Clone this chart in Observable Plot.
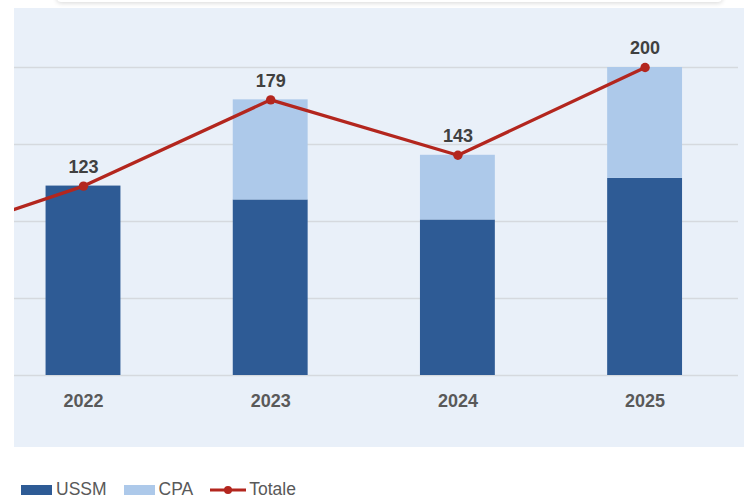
<!DOCTYPE html>
<html>
<head>
<meta charset="utf-8">
<script src="https://cdn.jsdelivr.net/npm/d3@7"></script>
<script src="https://cdn.jsdelivr.net/npm/@observablehq/plot@0.6"></script>
<style>
  html, body { margin: 0; padding: 0; background: #ffffff; }
  #wrap { position: relative; width: 744px; height: 501px; overflow: hidden; font-family: "Liberation Sans", Arial, sans-serif; }
  #card { position: absolute; left: 57px; top: -30px; width: 665px; height: 32px; background: #fff; box-shadow: 0 1px 5px rgba(0,0,0,0.16); border-radius: 4px; }
  #panel { position: absolute; left: 14px; top: 8px; width: 730px; height: 439px; background: #e9f0f9; }
  #chart { position: absolute; left: 0; top: 0; }
  #legend { position: absolute; left: 21px; top: 479px; display: flex; align-items: center; font-size: 17.5px; color: #595959; }
  .sw { display: inline-block; width: 31px; height: 10px; margin-right: 4px; }
  .item { display: flex; align-items: center; margin-right: 17px; }
</style>
</head>
<body>
<div id="wrap">
  <div id="card"></div>
  <div id="panel"></div>
  <div id="chart"></div>
  <div id="legend"></div>
</div>
<script>
// Data
const years = ["2022", "2023", "2024", "2025"];
const ussm = [123, 114, 101, 128];
const cpa = [0, 65, 42, 72];
const totale = [123, 179, 143, 200];
// previous year point of the total line (only its segment is visible at the left edge)
const prevYear = "2021";
const prevTotale = 82;
const seriesNames = ["USSM", "CPA", "Totale"];
const colors = {USSM: "#2e5b95", CPA: "#adc9ea", Totale: "#b3261e"};

const bars = [];
years.forEach((y, i) => {
  bars.push({year: y, series: "USSM", value: ussm[i]});
  bars.push({year: y, series: "CPA", value: cpa[i]});
});
const totals = years.map((y, i) => ({year: y, total: totale[i]}));
const lineData = [{year: prevYear, total: prevTotale}, ...totals];

const step = 187.2, pad = 0.6, n = 5;
const r0 = 83 - (1 + pad + (1 - pad) / 2) * step;
const r1 = r0 + (n + pad) * step;

const chart = Plot.plot({
  width: 744,
  height: 447,
  marginLeft: 14,
  marginRight: 6,
  marginTop: 8,
  marginBottom: 0,
  style: {background: "transparent", overflow: "hidden", fontFamily: "Liberation Sans, Arial, sans-serif"},
  x: {type: "band", domain: [prevYear, ...years], range: [r0, r1], padding: pad, round: false, axis: null},
  y: {domain: [0, 200], range: [375, 67], axis: null},
  color: {domain: ["USSM", "CPA"], range: [colors.USSM, colors.CPA]},
  marks: [
    Plot.ruleY([0, 50, 100, 150, 200], {stroke: "#d5d9de", strokeWidth: 1.6}),
    Plot.barY(bars, {x: "year", y: "value", fill: "series", order: ["USSM", "CPA"]}),
    Plot.line(lineData, {x: "year", y: "total", stroke: colors.Totale, strokeWidth: 3.3, clip: true}),
    Plot.dot(totals, {x: "year", y: "total", r: 4.7, fill: colors.Totale}),
    Plot.text(totals, {x: "year", y: "total", text: d => String(d.total), dy: -19, fontSize: 18, fontWeight: "bold", fill: "#404040"}),
    Plot.text(years, {x: d => d, y: () => 0, text: d => d, dy: 26, fontSize: 18, fontWeight: "bold", fill: "#595959"})
  ]
});
document.getElementById("chart").appendChild(chart);

// Legend
const legend = document.getElementById("legend");
seriesNames.forEach(name => {
  const item = document.createElement("div");
  item.className = "item";
  if (name === "Totale") {
    item.innerHTML = `<svg width="36" height="12" style="margin-right:3px"><line x1="0" y1="6" x2="36" y2="6" stroke="${colors.Totale}" stroke-width="3"/><circle cx="18" cy="6" r="4" fill="${colors.Totale}"/></svg><span>${name}</span>`;
  } else {
    item.innerHTML = `<span class="sw" style="background:${colors[name]}"></span><span>${name}</span>`;
  }
  legend.appendChild(item);
});
</script>
</body>
</html>
